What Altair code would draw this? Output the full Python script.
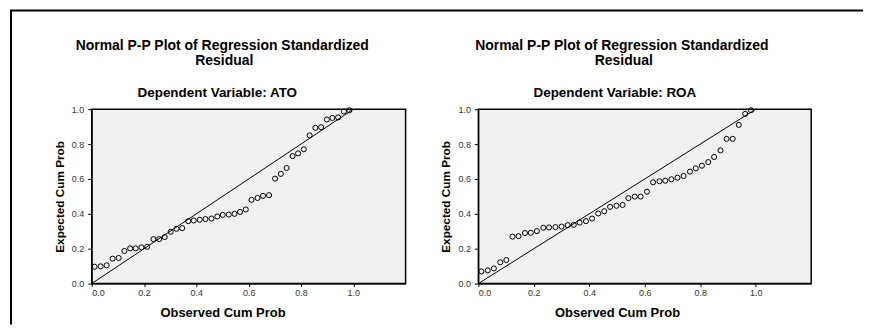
import altair as alt
import pandas as pd

# ---- data ----
ticks = [0.0, 0.2, 0.4, 0.6, 0.8, 1.0]

ato_obs = [0.011, 0.034, 0.057, 0.080, 0.103, 0.125, 0.147, 0.168, 0.190, 0.212,
           0.236, 0.258, 0.279, 0.302, 0.324, 0.346, 0.369, 0.390, 0.413, 0.435,
           0.458, 0.480, 0.501, 0.524, 0.546, 0.567, 0.589, 0.611, 0.634, 0.655,
           0.678, 0.701, 0.723, 0.745, 0.768, 0.789, 0.811, 0.833, 0.855, 0.877,
           0.899, 0.920, 0.942, 0.964, 0.985]
ato_exp = [0.097, 0.099, 0.105, 0.143, 0.147, 0.187, 0.202, 0.202, 0.208, 0.211,
           0.255, 0.255, 0.267, 0.297, 0.314, 0.318, 0.358, 0.362, 0.366, 0.370,
           0.373, 0.385, 0.394, 0.396, 0.400, 0.411, 0.425, 0.480, 0.491, 0.503,
           0.507, 0.602, 0.629, 0.663, 0.731, 0.747, 0.770, 0.850, 0.893, 0.897,
           0.941, 0.950, 0.953, 0.987, 0.994]

roa_obs = [0.011, 0.034, 0.056, 0.079, 0.101, 0.123, 0.145, 0.168, 0.189, 0.211,
           0.234, 0.255, 0.278, 0.300, 0.322, 0.344, 0.365, 0.388, 0.410, 0.432,
           0.454, 0.475, 0.498, 0.520, 0.541, 0.564, 0.585, 0.608, 0.630, 0.653,
           0.674, 0.696, 0.718, 0.740, 0.763, 0.784, 0.806, 0.829, 0.850, 0.873,
           0.895, 0.917, 0.939, 0.962, 0.983]
roa_exp = [0.070, 0.076, 0.087, 0.122, 0.135, 0.269, 0.272, 0.290, 0.291, 0.301,
           0.320, 0.322, 0.324, 0.327, 0.335, 0.337, 0.350, 0.358, 0.373, 0.402,
           0.415, 0.440, 0.446, 0.451, 0.490, 0.499, 0.499, 0.527, 0.581, 0.587,
           0.590, 0.598, 0.607, 0.617, 0.642, 0.661, 0.676, 0.697, 0.726, 0.764,
           0.830, 0.830, 0.910, 0.973, 0.994]

diag_obs = [0.0, 1.0]
diag_exp = [0.0, 1.0]

title_line1 = "Normal P-P Plot of Regression Standardized"
title_line2 = "Residual"
FONT = "Liberation Sans"


def label(text, x, y, size):
    one = pd.DataFrame({"a": [0]})
    return alt.Chart(one).mark_text(
        font=FONT, fontSize=size, fontWeight="bold", color="black",
        align="center", baseline="middle",
    ).encode(x=alt.value(x), y=alt.value(y), text=alt.value(text))


def panel(obs, exp, dep, width, tx, dx, frame=False):
    df = pd.DataFrame({"obs": obs, "exp": exp})
    diag = pd.DataFrame({"obs": diag_obs, "exp": diag_exp})
    px_per_unit = width / 1.2
    xsc = alt.Scale(domain=[0, 1.2], nice=False, zero=False)
    ysc = alt.Scale(domain=[0, 1], nice=False)
    xax = alt.Axis(values=ticks, format=".1f", title="Observed Cum Prob",
                   titleX=px_per_unit * 0.5, titlePadding=9, tickSize=3,
                   labelPadding=2, grid=False, titleFontSize=13)
    yax = alt.Axis(values=ticks, format=".1f", title="Expected Cum Prob",
                   tickSize=4, labelPadding=4, titlePadding=6, grid=False,
                   titleFontSize=11.8)
    line = alt.Chart(diag).mark_line(color="black", strokeWidth=1).encode(
        x=alt.X("obs:Q", scale=xsc, axis=xax),
        y=alt.Y("exp:Q", scale=ysc, axis=yax),
    )
    pts = alt.Chart(df).mark_point(shape="circle", filled=False, color="black",
                                   size=26, strokeWidth=1, opacity=1).encode(
        x=alt.X("obs:Q", scale=xsc, axis=xax),
        y=alt.Y("exp:Q", scale=ysc, axis=yax),
    )
    layers = [line, pts,
              label(title_line1, tx, -63, 14),
              label(title_line2, tx + 2, -48, 14),
              label(dep, dx, -16, 13.5)]
    if frame:
        one = pd.DataFrame({"a": [0]})
        left = alt.Chart(one).mark_rule(color="black", strokeWidth=2).encode(
            x=alt.value(-81), y=alt.value(-99), y2=alt.value(216))
        top = alt.Chart(one).mark_rule(color="black", strokeWidth=2).encode(
            x=alt.value(-82), x2=alt.value(774), y=alt.value(-99))
        layers += [left, top]
    return alt.layer(*layers).properties(width=width, height=175)


left = panel(ato_obs, ato_exp, "Dependent Variable: ATO", 315, 131, 126, frame=True)
right = panel(roa_obs, roa_exp, "Dependent Variable: ROA", 334, 144, 137)

chart = alt.hconcat(left, right, spacing=73, bounds="flush").properties(
    padding=0, background="white"
).configure_view(
    fill="#f0f0f0", stroke="black", strokeWidth=1.5
).configure_axis(
    domainColor="black", tickColor="black", labelColor="#333333",
    labelFont=FONT, labelFontSize=9, titleFont=FONT,
    titleFontWeight="bold", titleColor="black",
)

chart.save("out.html", embed_options={"renderer": "svg", "actions": False})
